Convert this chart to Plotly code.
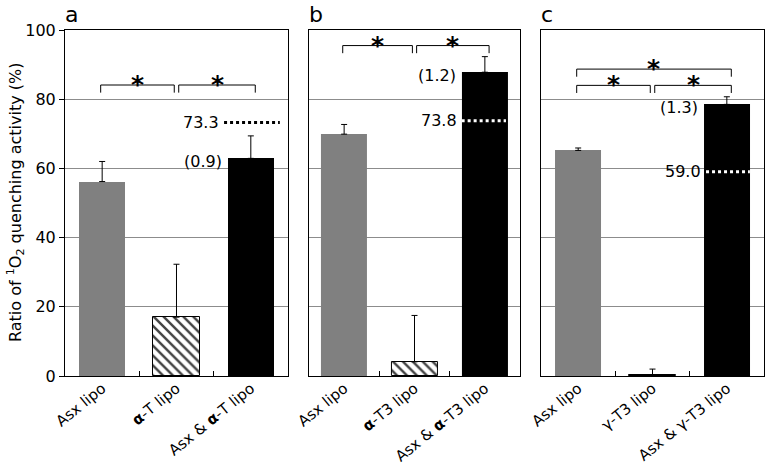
import plotly.graph_objects as go

# ---------------- data ----------------
panel_letters = ["a", "b", "c"]
categories_a = ["Asx lipo", "<b>α</b>-T lipo", "Asx &amp; <b>α</b>-T lipo"]
categories_b = ["Asx lipo", "<b>α</b>-T3 lipo", "Asx &amp; <b>α</b>-T3 lipo"]
categories_c = ["Asx lipo", "γ-T3 lipo", "Asx &amp; γ-T3 lipo"]

values_a = [56.2, 17.0, 62.9]
errors_a = [5.8, 15.3, 6.5]
values_b = [69.9, 4.1, 87.8]
errors_b = [2.8, 13.4, 4.5]
values_c = [65.2, 0.3, 78.5]
errors_c = [0.7, 1.7, 2.2]

expected_a = 73.3
expected_b = 73.8
expected_c = 59.0
ratio_a = "(0.9)"
ratio_b = "(1.2)"
ratio_c = "(1.3)"

brackets_a = [(0, 1, 84.1), (1, 2, 84.1)]
brackets_b = [(0, 1, 95.5), (1, 2, 95.5)]
brackets_c = [(0, 1, 84.0), (1, 2, 84.0), (0, 2, 88.7)]

y_ticks = [0, 20, 40, 60, 80, 100]

# ---------------- styling ----------------
FONT = "DejaVu Sans"
bar_colors = ["#808080", "white", "black"]
patterns = ["", "\\", ""]
domains = [[0.0, 0.319], [0.349, 0.651], [0.681, 1.0]]
bar_widths = [0.62, 0.655, 0.62]
dot_colors = ["black", "white", "white"]
dot_extent = [(-0.36, 0.39), (-0.33, 0.30), (-0.28, 0.31)]

panels = [
    (categories_a, values_a, errors_a, expected_a, ratio_a, brackets_a),
    (categories_b, values_b, errors_b, expected_b, ratio_b, brackets_b),
    (categories_c, values_c, errors_c, expected_c, ratio_c, brackets_c),
]

fig = go.Figure()
shapes = []
annotations = []

for k, (cats, vals, errs, expv, ratio, brs) in enumerate(panels):
    sfx = "" if k == 0 else str(k + 1)
    xref = "x" + sfx
    yref = "y" + sfx
    xs = list(range(len(cats)))
    fig.add_trace(go.Bar(
        x=xs, y=vals, width=bar_widths[k],
        xaxis=xref, yaxis=yref,
        marker=dict(
            color=bar_colors,
            line=dict(color="black", width=[0, 1, 0]),
            pattern=dict(shape=patterns, fgcolor="black",
                         fgopacity=1, size=7, solidity=0.35,
                         fillmode="overlay"),
        ),
        error_y=dict(type="data", symmetric=False, array=errs,
                     arrayminus=[0] * len(errs), color="black",
                     thickness=1, width=3),
        showlegend=False, hoverinfo="skip",
    ))

    # dotted expected line on the combined bar
    x0 = 2 + dot_extent[k][0]
    x1 = 2 + dot_extent[k][1]
    shapes.append(dict(type="line", xref=xref, yref=yref, x0=x0, x1=x1,
                       y0=expv, y1=expv, layer="above",
                       line=dict(color=dot_colors[k], width=3, dash="dot")))
    annotations.append(dict(xref=xref, yref=yref, x=x0, y=expv,
                            text=f"{expv:.1f}", showarrow=False,
                            xanchor="right", yanchor="middle", xshift=-3,
                            font=dict(family=FONT, size=16, color="black")))
    # ratio label
    annotations.append(dict(xref=xref, yref=yref, x=2 - bar_widths[k] / 2,
                            y=vals[2], text=ratio, showarrow=False,
                            xanchor="right", yanchor="middle", xshift=-4,
                            yshift=-3,
                            font=dict(family=FONT, size=16, color="black")))

    # significance brackets
    for (i, j, lev) in brs:
        bx0 = i + (0.03 if i == 1 else -0.02)
        bx1 = j + (-0.03 if j == 1 else 0.06)
        drop = 2.2
        shapes.append(dict(
            type="path", xref=xref, yref=yref, layer="above",
            path=f"M {bx0},{lev - drop} L {bx0},{lev} L {bx1},{lev} L {bx1},{lev - drop}",
            line=dict(color="black", width=1)))
        annotations.append(dict(xref=xref, yref=yref, x=(bx0 + bx1) / 2,
                                y=lev, text="<b>*</b>", showarrow=False,
                                xanchor="center", yanchor="bottom", yshift=-16,
                                font=dict(family=FONT, size=25, color="black")))

    # panel letter
    annotations.append(dict(xref="paper", yref="paper", x=domains[k][0],
                            y=1, text=panel_letters[k], showarrow=False,
                            xanchor="left", yanchor="bottom", xshift=-2,
                            yshift=1,
                            font=dict(family=FONT, size=22, color="black")))

    xa = dict(domain=domains[k], anchor=yref, range=[-0.5, 2.5],
              tickmode="array", tickvals=xs, ticktext=cats, tickangle=-39,
              ticks="", showline=True, mirror=True, linecolor="black",
              linewidth=1, showgrid=False, zeroline=False, automargin=False,
              ticklabelstandoff=-3,
              tickfont=dict(family=FONT, size=15, color="black"),
              minor=dict(tickmode="array", tickvals=[0.5, 1.5],
                         ticks="inside", ticklen=5, tickcolor="black",
                         showgrid=False))
    ya = dict(anchor=xref, range=[0, 100], tickmode="array", tickvals=y_ticks,
              showgrid=True, gridcolor="#8c8c8c", gridwidth=1,
              showline=True, mirror=True, linecolor="black", linewidth=1,
              zeroline=False, automargin=False,
              showticklabels=(k == 0),
              ticks="outside" if k == 0 else "", ticklen=5,
              tickcolor="black",
              tickfont=dict(family=FONT, size=16, color="black"))
    fig.layout["xaxis" + sfx] = xa
    fig.layout["yaxis" + sfx] = ya

annotations.append(dict(xref="paper", yref="paper", x=0, y=0.5,
                        xshift=-50, text="Ratio of <sup>1</sup>O<sub>2</sub> quenching activity (%)",
                        textangle=-90, showarrow=False, xanchor="center",
                        yanchor="middle",
                        font=dict(family=FONT, size=16, color="black")))

fig.update_layout(
    width=766, height=466,
    margin=dict(l=65, r=2, t=30, b=90),
    paper_bgcolor="white", plot_bgcolor="white",
    shapes=shapes, annotations=annotations,
    bargap=0, font=dict(family=FONT, color="black"),
)

fig.write_html(
    "out.html",
    config={"displayModeBar": False},
    post_script="document.body.style.margin='0px';document.body.style.padding='0px';document.body.style.overflow='hidden';",
)
